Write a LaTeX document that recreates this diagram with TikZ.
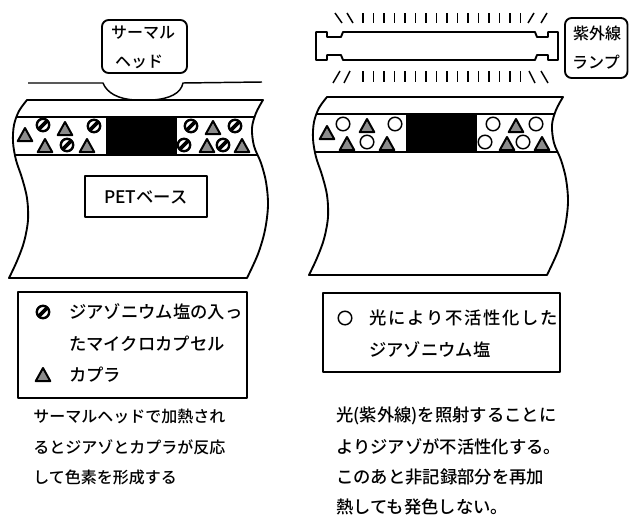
\documentclass[tikz,border=0pt]{standalone}
\usepackage{fontspec}
\setmainfont{Noto Sans CJK JP Medium}
\begin{document}
\begin{tikzpicture}[x=0.75pt,y=-0.75pt,
  thinline/.style={line width=1.1pt, line join=round},
  edge/.style={line width=1.4pt, line join=round},
  ray/.style={line width=1.1pt},
  jp/.style={inner sep=0pt, font=\fontsize{12}{14}\selectfont},
  jpl/.style={inner sep=0pt, anchor=west, font=\fontsize{13}{15}\selectfont},
  capsule/.pic={
    \draw[line width=1.8pt] (0,0) circle (6.2);
    \draw[line width=2.8pt] (-4.3,4.3) -- (4.3,-4.3);
  },
  coupler/.pic={
    \filldraw[fill=black!45, line width=1.5pt, line join=round]
      (0,-7) -- (7.3,6.2) -- (-7.3,6.2) -- cycle;
  },
  deadsalt/.pic={
    \draw[line width=1.1pt] (0,0) circle (6.8);
  }]
\useasboundingbox (0,0) rectangle (629,521);

% outline of a recording sheet (thermal layer on a PET base)
\def\sheetshape{(27,100) -- (263,100)
  -- plot[smooth,tension=0.55] coordinates {(263,100) (256,113) (252,128) (254,146) (261,163) (266,182) (268,205) (265,230) (258,254) (247,278)}
  -- (9,278)
  -- plot[smooth,tension=0.55] coordinates {(9,278) (17,261) (24,242) (28,220) (27,198) (22,178) (16,160) (13,142) (14,125) (19,111) (27,100)}
  -- cycle}

% ---------- left: thermal head ----------
\draw[edge, rounded corners=5pt] (102,20) rectangle (187,73);
\node[jp] (head1) at (143,33) {サーマル};
\node[jp] (head2) at (139,62) {ヘッド};
\draw[thinline] (28,83) -- (103,83) .. controls (107,93) and (118,99) .. (135,100)
  -- (152,100) .. controls (170,99) and (181,93) .. (183,83) -- (262,82);

\begin{scope}
  \clip \sheetshape;
  \draw[thinline] (0,117) -- (300,117);
  \draw[thinline] (0,155) -- (300,155);
  \fill (106,117) rectangle (177,155);
\end{scope}
\draw[edge] \sheetshape;

\pic at (25,135) {coupler};
\pic at (43,125) {capsule};
\pic at (65,129) {coupler};
\pic at (94,126) {capsule};
\pic at (45,146) {coupler};
\pic at (67,145) {capsule};
\pic at (87,146) {coupler};
\pic at (191,126) {capsule};
\pic at (213,128) {coupler};
\pic at (235,126) {capsule};
\pic at (184,145) {capsule};
\pic at (207,146) {coupler};
\pic at (223,145) {capsule};
\pic at (242,146) {coupler};

\draw[thinline] (85,176) rectangle (207,217);
\node[jp, font=\fontsize{13}{15}\selectfont] (pet) at (146,197) {PETベース};

% legend, left
\draw[thinline] (18,292) rectangle (247,398);
\pic at (43,312) {capsule};
\node[jpl] (lg1) at (69,312) {ジアゾニウム塩の入っ};
\node[jpl] (lg2) at (69,344) {たマイクロカプセル};
\pic at (43,375) {coupler};
\node[jpl] (lg3) at (69,375) {カプラ};

\node[jp, anchor=west] (ln1) at (33,416) {サーマルヘッドで加熱され};
\node[jp, anchor=west] (ln2) at (33,447) {るとジアゾとカプラが反応};
\node[jp, anchor=west] (ln3) at (33,477) {して色素を形成する};

% ---------- right: UV lamp ----------
\draw[edge] (316,32) -- (327,32) -- (327,37) -- (341,37) -- (343,32) -- (535,32)
  -- (537,37) -- (548,37) -- (548,32) -- (558,32) -- (558,60) -- (548,60)
  -- (548,55) -- (537,55) -- (535,60) -- (343,60) -- (341,55) -- (327,55)
  -- (327,60) -- (316,60) -- cycle;
\foreach \i in {0,...,15} {
  \draw[ray] ({363+10.5*\i},13) -- ++(0,10);
  \draw[ray] ({363+10.5*\i},71) -- ++(0,11);
}
\draw[ray] (335,13) -- (342,23);
\draw[ray] (347,13) -- (353,23);
\draw[ray] (528,23) -- (534,13);
\draw[ray] (541,23) -- (547,13);
\draw[ray] (333,83) -- (340,71);
\draw[ray] (344,83) -- (350,71);
\draw[ray] (529,71) -- (535,83);
\draw[ray] (541,71) -- (548,83);

\draw[edge, rounded corners=5pt] (565,18) rectangle (627.5,78);
\node[jp] (uv1) at (597,33) {紫外線};
\node[jp] (uv2) at (596,62) {ランプ};

\begin{scope}[shift={(300,-3)}]
  \begin{scope}
    \clip \sheetshape;
    \draw[thinline] (0,117) -- (300,117);
    \draw[thinline] (0,155) -- (300,155);
    \fill (106,117) rectangle (177,155);
  \end{scope}
  \draw[edge] \sheetshape;
\end{scope}

\pic at (327,133) {coupler};
\pic at (343,124) {deadsalt};
\pic at (367,126) {coupler};
\pic at (395,124) {deadsalt};
\pic at (347,144) {coupler};
\pic at (367,142) {deadsalt};
\pic at (387,144) {coupler};
\pic at (493,124) {deadsalt};
\pic at (516,126) {coupler};
\pic at (536,124) {deadsalt};
\pic at (485,142) {deadsalt};
\pic at (507,144) {coupler};
\pic at (523,142) {deadsalt};
\pic at (542,144) {coupler};

% legend, right
\draw[thinline] (323,293) rectangle (560,372);
\pic at (345,318) {deadsalt};
\node[jpl, font=\fontsize{13}{15}\selectfont\addfontfeature{LetterSpace=10}] (lr1) at (369,318) {光により不活性化した};
\node[jpl] (lr2) at (369,350) {ジアゾニウム塩};

\node[jpl] (rn1) at (336,416) {光(紫外線)を照射することに};
\node[jpl] (rn2) at (336,447) {よりジアゾが不活性化する。};
\node[jpl] (rn3) at (336,477) {このあと非記録部分を再加};
\node[jpl] (rn4) at (336,507) {熱しても発色しない。};
\end{tikzpicture}
\end{document}
